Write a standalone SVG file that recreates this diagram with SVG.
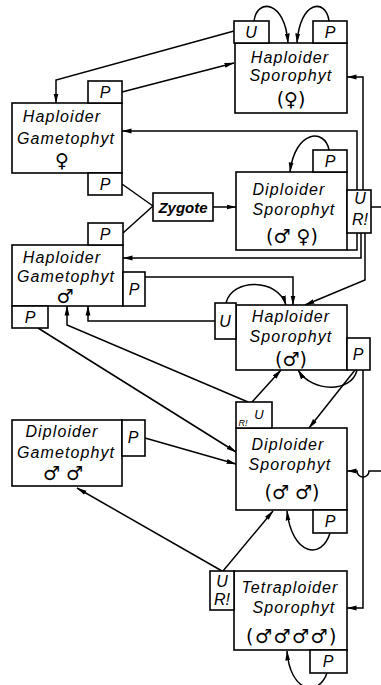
<svg xmlns="http://www.w3.org/2000/svg" width="381" height="685" viewBox="0 0 381 685">
<defs>
<marker id="ah" markerWidth="10" markerHeight="6" refX="9.5" refY="3" orient="auto" markerUnits="userSpaceOnUse"><path d="M0,0.6 L10,3 L0,5.4 Z" fill="#000"/></marker>
</defs>
<style>
.box{fill:#fff;stroke:#000;stroke-width:1.6}
.ln{fill:none;stroke:#000;stroke-width:1.5}
.t{font-family:"Liberation Sans",Arial,sans-serif;font-style:italic;font-size:16px;fill:#000;letter-spacing:1.1px;text-anchor:middle}
.s{font-family:"DejaVu Sans",sans-serif;font-size:19px;fill:#000;text-anchor:middle}
.tab{font-family:"Liberation Sans",Arial,sans-serif;font-style:italic;font-size:16px;fill:#000;text-anchor:middle}
.z{font-family:"Liberation Sans",Arial,sans-serif;font-style:italic;font-weight:bold;font-size:15px;fill:#000;text-anchor:middle}
</style>
<rect width="381" height="685" fill="#fff"/>
<g id="connectors" class="ln">
<path d="M234 31 L56 80 L56 103" marker-end="url(#ah)"/>
<path d="M122 92 L234 63" marker-end="url(#ah)"/>
<path d="M254 21 C257 -2, 285 0, 288 43" marker-end="url(#ah)"/>
<path d="M329 21 C326 -2, 300 0, 297 43" marker-end="url(#ah)"/>
<path d="M357 190 V131 H122" marker-end="url(#ah)"/>
<path d="M363 190 V77 H347" marker-end="url(#ah)"/>
<path d="M122 184 L153 206 M123 233 L153 206"/>
<path d="M213 207 H236" marker-end="url(#ah)"/>
<path d="M329 150 C325 128, 295 130, 290 172" marker-end="url(#ah)"/>
<path d="M357 233 V250 H347"/>
<path d="M361 233 V258 H123" marker-end="url(#ah)"/>
<path d="M365 233 V280 L305 305" marker-end="url(#ah)"/>
<path d="M145 277 H293 V305" marker-end="url(#ah)"/>
<path d="M226 303 C232 278, 278 278, 286 305" marker-end="url(#ah)"/>
<path d="M215 321 H88 V306" marker-end="url(#ah)"/>
<path d="M248 402 L67 325 V306" marker-end="url(#ah)"/>
<path d="M38 328 L236 452" marker-end="url(#ah)"/>
<path d="M145 438 L236 464" marker-end="url(#ah)"/>
<path d="M252 402 L281 370" marker-end="url(#ah)"/>
<path d="M355 370 L309 428" marker-end="url(#ah)"/>
<path d="M357 370 C352 393, 312 393, 298 370" marker-end="url(#ah)"/>
<path d="M363 370 V608 H347" marker-end="url(#ah)"/>
<path d="M381 471 H369 A6 6 0 0 1 357 471 H347" marker-end="url(#ah)"/>
<path d="M222 571 L77 488" marker-end="url(#ah)"/>
<path d="M223 571 L273 511" marker-end="url(#ah)"/>
<path d="M330 533 C322 560, 292 556, 287 511" marker-end="url(#ah)"/>
<path d="M327 673 C318 698, 290 692, 287 651" marker-end="url(#ah)"/>
<path d="M371 207 H381"/>
</g>
<g id="hap-sporophyt-f">
<rect class="box" x="235" y="43" width="112" height="70"/>
<rect class="box" x="234" y="21" width="35" height="22"/>
<rect class="box" x="313" y="21" width="34" height="22"/>
<text class="tab" x="251" y="38">U</text>
<text class="tab" x="330" y="38">P</text>
<text class="t" x="290" y="63">Haploider</text>
<text class="t" x="291" y="81">Sporophyt</text>
<text class="s" x="291" y="106">(♀)</text>
</g>
<g id="hap-gametophyt-f">
<rect class="box" x="12" y="103" width="110" height="70"/>
<rect class="box" x="88" y="81" width="34" height="22"/>
<rect class="box" x="88" y="173" width="34" height="22"/>
<text class="tab" x="105" y="98">P</text>
<text class="tab" x="105" y="190">P</text>
<text class="t" x="62" y="122">Haploider</text>
<text class="t" x="66" y="144">Gametophyt</text>
<text class="s" x="62" y="167">♀</text>
</g>
<g id="zygote">
<rect class="box" x="153" y="193" width="60" height="28"/>
<text class="z" x="183" y="213">Zygote</text>
</g>
<g id="dip-sporophyt-mf">
<rect class="box" x="236" y="172" width="111" height="78"/>
<rect class="box" x="313" y="150" width="34" height="22"/>
<rect class="box" x="347" y="190" width="24" height="43"/>
<text class="tab" x="330" y="167">P</text>
<text class="tab" x="360" y="204">U</text>
<text class="tab" x="360" y="225">R!</text>
<text class="t" x="289" y="195">Diploider</text>
<text class="t" x="294" y="215">Sporophyt</text>
<text class="s" x="292" y="243">(♂ ♀)</text>
</g>
<g id="hap-gametophyt-m">
<rect class="box" x="12" y="245" width="111" height="61"/>
<rect class="box" x="88" y="223" width="35" height="22"/>
<rect class="box" x="123" y="272" width="22" height="34"/>
<rect class="box" x="12" y="306" width="36" height="22"/>
<text class="tab" x="105" y="240">P</text>
<text class="tab" x="134" y="295">P</text>
<text class="tab" x="30" y="323">P</text>
<text class="t" x="62" y="263">Haploider</text>
<text class="t" x="66" y="282">Gametophyt</text>
<text class="s" x="65" y="303">♂</text>
</g>
<g id="hap-sporophyt-m">
<rect class="box" x="236" y="305" width="111" height="65"/>
<rect class="box" x="215" y="303" width="21" height="36"/>
<rect class="box" x="347" y="338" width="23" height="32"/>
<text class="tab" x="225" y="327">U</text>
<text class="tab" x="358" y="360">P</text>
<text class="t" x="291" y="322">Haploider</text>
<text class="t" x="291" y="342">Sporophyt</text>
<text class="s" x="291" y="366">(♂)</text>
</g>
<g id="dip-gametophyt-mm">
<rect class="box" x="12" y="420" width="110" height="66"/>
<rect class="box" x="122" y="420" width="23" height="36"/>
<text class="tab" x="133" y="443">P</text>
<text class="t" x="62" y="437">Diploider</text>
<text class="t" x="66" y="458">Gametophyt</text>
<text class="s" x="63" y="480">♂ ♂</text>
</g>
<g id="dip-sporophyt-mm">
<rect class="box" x="236" y="428" width="111" height="82"/>
<rect class="box" x="236" y="402" width="36" height="26"/>
<rect class="box" x="313" y="510" width="34" height="23"/>
<text class="tab" x="330" y="527">P</text>
<text class="tab" style="font-size:9px" x="243" y="426">R!</text>
<text class="tab" style="font-size:13px" x="259" y="419">U</text>
<text class="t" x="288" y="450">Diploider</text>
<text class="t" x="290" y="470">Sporophyt</text>
<text class="s" x="292" y="499">(♂ ♂)</text>
</g>
<g id="tetra-sporophyt">
<rect class="box" x="234" y="571" width="113" height="79"/>
<rect class="box" x="210" y="571" width="24" height="39"/>
<rect class="box" x="310" y="650" width="37" height="23"/>
<text class="tab" x="328" y="667">P</text>
<text class="tab" x="222" y="587">U</text>
<text class="tab" x="222" y="605">R!</text>
<text class="t" x="290" y="593">Tetraploider</text>
<text class="t" x="294" y="613">Sporophyt</text>
<text class="s" x="292" y="643" style="letter-spacing:1.5px">(♂♂♂♂)</text>
</g>
</svg>
